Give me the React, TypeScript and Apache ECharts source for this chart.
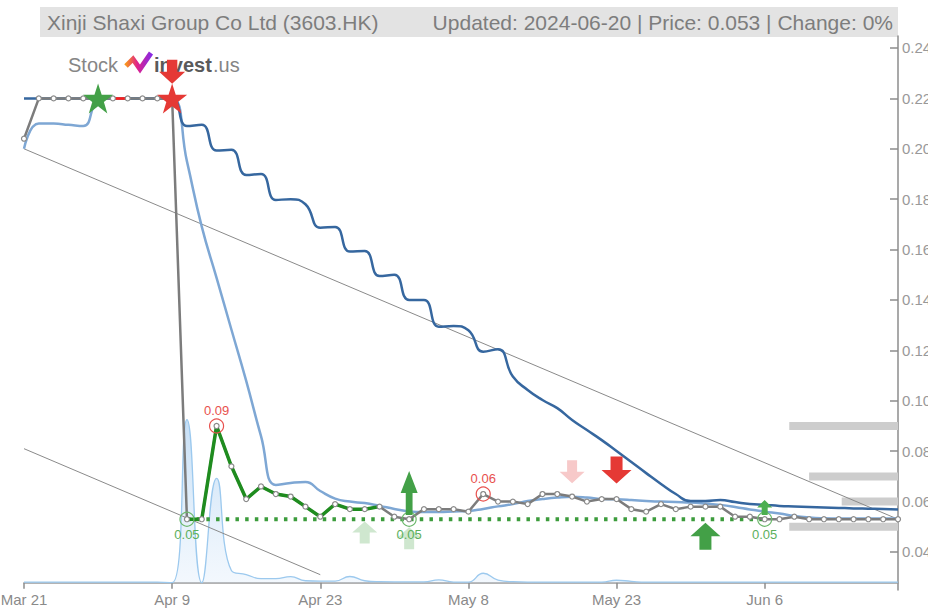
import React, { useEffect, useRef } from "react";
import * as echarts from "echarts";

const dates = [
  "Mar 21", "Mar 22", "Mar 25", "Mar 26", "Mar 27", "Mar 28", "Apr 2", "Apr 3", "Apr 5", "Apr 8",
  "Apr 9", "Apr 10", "Apr 11", "Apr 12", "Apr 15", "Apr 16", "Apr 17", "Apr 18", "Apr 19", "Apr 22",
  "Apr 23", "Apr 24", "Apr 25", "Apr 26", "Apr 29", "Apr 30", "May 2", "May 3", "May 6", "May 7",
  "May 8", "May 9", "May 10", "May 13", "May 14", "May 16", "May 17", "May 20", "May 21", "May 22",
  "May 23", "May 24", "May 27", "May 28", "May 29", "May 30", "May 31", "Jun 3", "Jun 4", "Jun 5",
  "Jun 6", "Jun 7", "Jun 11", "Jun 12", "Jun 13", "Jun 14", "Jun 17", "Jun 18", "Jun 19", "Jun 20",
];

const price = [
  0.204, 0.22, 0.22, 0.22, 0.22, 0.22, 0.22, 0.22, 0.22, 0.22,
  0.22, 0.053, 0.053, 0.09, 0.074, 0.061, 0.066, 0.063, 0.062, 0.058,
  0.054, 0.059, 0.057, 0.057, 0.058, 0.054, 0.053, 0.057, 0.057, 0.057,
  0.056, 0.063, 0.06, 0.06, 0.059, 0.063, 0.063, 0.062, 0.06, 0.061,
  0.061, 0.057, 0.056, 0.059, 0.057, 0.058, 0.058, 0.058, 0.054, 0.054,
  0.053, 0.053, 0.054, 0.053, 0.053, 0.053, 0.053, 0.053, 0.053, 0.053,
];

const maLong = [
  0.22, 0.22, 0.22, 0.22, 0.22, 0.22, 0.22, 0.22, 0.22, 0.22,
  0.22, 0.209, 0.2095, 0.1993, 0.1996, 0.1896, 0.19, 0.1797, 0.18, 0.178,
  0.1687, 0.169, 0.1592, 0.1594, 0.1495, 0.15, 0.14, 0.14, 0.1294, 0.1297,
  0.128, 0.1195, 0.1205, 0.1096, 0.1043, 0.1003, 0.0971, 0.0924, 0.0884, 0.0844,
  0.0801, 0.0757, 0.0713, 0.067, 0.063, 0.0602, 0.0602, 0.0606, 0.0598, 0.059,
  0.0587, 0.0583, 0.0581, 0.0579, 0.0577, 0.0575, 0.0573, 0.0572, 0.0571, 0.0569,
];

const maShort = [
  0.2, 0.21, 0.21, 0.2095, 0.209, 0.219, 0.22, 0.22, 0.22, 0.22,
  0.22, 0.195, 0.1691, 0.1488, 0.1283, 0.1079, 0.086, 0.0666, 0.0674, 0.0678,
  0.0642, 0.0612, 0.06, 0.0594, 0.0583, 0.0571, 0.0561, 0.0559, 0.0559, 0.0561,
  0.0563, 0.0571, 0.0581, 0.059, 0.0602, 0.061, 0.0616, 0.0619, 0.0616, 0.061,
  0.0609, 0.0606, 0.0602, 0.06, 0.0598, 0.0596, 0.0592, 0.0587, 0.0579, 0.0569,
  0.056, 0.0553, 0.0543, 0.0537, 0.0534, 0.0533, 0.0533, 0.0533, 0.0533, 0.0533,
];

const volume = [
  0.3, 0.3, 0.3, 0.3, 0.3, 0.3, 0.3, 0.3, 0.3, 0.3,
  0, 100, 0, 64, 7.5, 5, 2.5, 2.5, 3.7, 1.2,
  1, 1, 3.8, 1.2, 0.6, 0.5, 0.5, 0.5, 1.7, 0.4,
  0.4, 5.8, 1.6, 0.6, 0.4, 0.4, 0.4, 0.4, 0.4, 0.4,
  1.5, 0.8, 0.3, 0.3, 0.3, 0.3, 0.3, 0.3, 0.3, 0.3,
  0.3, 0.3, 0.3, 0.3, 0.3, 0.3, 0.3, 0.3, 0.3, 0.3,
];

const yTicks = [0.04, 0.06, 0.08, 0.1, 0.12, 0.14, 0.16, 0.18, 0.2, 0.22, 0.24];
const yMin = 0.02492;
const yMax = 0.24476;

const redSegment = [[6, 0.22], [7, 0.22]];
const greenRange = [11, 24];
const supportLine = [[11, 0.053], [50, 0.053]];
const upperTrend = [[0, 0.2], [59, 0.053]];
const lowerTrend = [[0, 0.081], [20, 0.031]];

const levelPrices = [0.09, 0.07, 0.06, 0.05];
const levelFrom = [51.66, 53.0, 55.2, 51.66];
const lastIndex = 59;

const highMarks = [[13, 0.09], [31, 0.063]];
const lowMarks = [[11, 0.053], [26, 0.053], [50, 0.053]];
const greenStar = [[5, 0.22]];
const redStar = [[10, 0.22]];
const sellTop = [[10, 0.2306]];
const sellMain = [[40, 0.0725]];
const sellFaded = [[37, 0.0718]];
const buyMain = [[46, 0.0462]];
const buyTall = [[26, 0.0634]];
const buySmall = [[50, 0.0577]];
const buyFaded = [[23, 0.0477], [26, 0.0455]];

const titleLeft = "Xinji Shaxi Group Co Ltd (3603.HK)";
const titleRight = "Updated: 2024-06-20 | Price: 0.053 | Change: 0%";

const FONT = "'Liberation Sans', Arial, sans-serif";
const upPath = "path://M50,0L100,50L70,50L70,100L30,100L30,50L0,50Z";
const downPath = "path://M30,0L70,0L70,50L100,50L50,100L0,50L30,50Z";
const starPath = "path://M50,0L61.8,35.4L99,35.4L69,57.3L80.3,92.7L50,70.8L19.7,92.7L31,57.3L1,35.4L38.2,35.4Z";

function markSeries(data: number[][], symbol: string, size: number | number[], color: string, z: number) {
  return {
    type: "scatter",
    data,
    symbol,
    symbolSize: size,
    itemStyle: { color, opacity: 1 },
    z,
    silent: true,
  };
}

export default function App() {
  const ref = useRef<HTMLDivElement>(null);

  useEffect(() => {
    if (!ref.current) return;
    const chart = echarts.init(ref.current, undefined, { renderer: "svg" });

    const levelSeries = levelPrices.map((lv, k) => ({
      type: "line",
      xAxisIndex: 1,
      yAxisIndex: 0,
      data: [[levelFrom[k], lv], [lastIndex, lv]],
      symbol: "none",
      lineStyle: { color: "#cdcdcd", width: 8, cap: "butt" },
      z: 2,
      silent: true,
    }));

    const greenData = price
      .map((v, i) => [i, v])
      .filter((p) => p[0] >= greenRange[0] && p[0] <= greenRange[1]);

    const option: any = {
      animation: false,
      textStyle: { fontFamily: FONT },
      grid: { left: 24, right: 30, top: 36, bottom: 18, containLabel: false, outerBoundsMode: "none" },
      xAxis: [
        {
          type: "category",
          data: dates,
          boundaryGap: false,
          offset: -7.3,
          axisLine: { onZero: false, lineStyle: { color: "#9a9a9a", width: 1.5 } },
          axisTick: { interval: 9, length: 6, lineStyle: { color: "#8c8c8c", width: 1.5 } },
          axisLabel: { interval: 9, color: "#8a8a8a", fontSize: 15, margin: 9, fontFamily: FONT },
          splitLine: { show: false },
        },
        { type: "value", min: 0, max: lastIndex, show: false },
      ],
      yAxis: [
        {
          type: "value",
          position: "right",
          min: yMin,
          max: yMax,
          splitLine: { show: false },
          axisLine: { show: true, onZero: false, lineStyle: { color: "#8c8c8c", width: 1.5 } },
          axisTick: { show: true, inside: true, length: 8, lineStyle: { color: "#8c8c8c", width: 1.5 }, customValues: yTicks },
          axisLabel: {
            customValues: yTicks,
            formatter: (v: number) => v.toFixed(2),
            color: "#999",
            fontSize: 15,
            margin: 4,
            fontFamily: FONT,
          },
        },
        { type: "value", min: -4.48, max: 335.4, show: false },
      ],
      graphic: [
        { type: "rect", shape: { x: 40, y: 7, width: 858, height: 30 }, style: { fill: "#e3e3e3" }, z: 0 },
        {
          type: "text", x: 47, y: 22,
          style: { text: titleLeft, fontSize: 21, fontFamily: FONT, fill: "#7d7d7d", verticalAlign: "middle", align: "left" },
        },
        {
          type: "text", x: 893, y: 22,
          style: { text: titleRight, fontSize: 21, fontFamily: FONT, fill: "#7d7d7d", verticalAlign: "middle", align: "right" },
        },
        {
          type: "text", x: 68, y: 65, z: 0,
          style: { text: "Stock", fontSize: 20, fontFamily: FONT, fill: "#868686", verticalAlign: "middle" },
        },
        {
          type: "polyline", z: 0,
          shape: { points: [[126, 66], [133, 59], [140, 69], [151, 53]] },
          style: {
            fill: null,
            lineWidth: 5,
            lineJoin: "miter",
            stroke: new echarts.graphic.LinearGradient(0, 0, 1, 0, [
              { offset: 0, color: "#f7941d" },
              { offset: 0.45, color: "#e0218a" },
              { offset: 1, color: "#8a2be2" },
            ]),
          },
        },
        {
          type: "text", x: 154, y: 65, z: 0,
          style: { text: "invest", fontSize: 20, fontWeight: "bold", fontFamily: FONT, fill: "#5a5a5a", verticalAlign: "middle" },
        },
        {
          type: "text", x: 213, y: 65, z: 0,
          style: { text: ".us", fontSize: 20, fontFamily: FONT, fill: "#858585", verticalAlign: "middle" },
        },
      ],
      series: [
        {
          type: "line",
          xAxisIndex: 0,
          yAxisIndex: 1,
          data: volume,
          smooth: true,
          symbol: "none",
          lineStyle: { color: "#9cc9ee", width: 1.3 },
          areaStyle: {
            color: new echarts.graphic.LinearGradient(0, 0, 0, 1, [
              { offset: 0, color: "rgba(120,178,232,0.6)" },
              { offset: 1, color: "rgba(205,226,248,0.35)" },
            ]),
          },
          z: 1,
          silent: true,
        },
        ...levelSeries,
        {
          type: "line", data: upperTrend, symbol: "none",
          lineStyle: { color: "#8a8a8a", width: 1 }, z: 3, silent: true,
        },
        {
          type: "line", data: lowerTrend, symbol: "none",
          lineStyle: { color: "#8a8a8a", width: 1 }, z: 3, silent: true,
        },
        {
          type: "line", data: maShort, smooth: true, symbol: "none",
          lineStyle: { color: "#7ea7d4", width: 2.5 }, z: 4, silent: true,
        },
        {
          type: "line", data: maLong, smooth: true, symbol: "none",
          lineStyle: { color: "#36679f", width: 2.5 }, z: 5, silent: true,
        },
        {
          type: "line", data: supportLine, symbol: "none",
          lineStyle: { color: "#3c9c3c", width: 4, type: [3.5, 6.2] }, z: 6, silent: true,
        },
        {
          type: "line", data: price, symbol: "none",
          lineStyle: { color: "#7c7c7c", width: 2.5 }, z: 7, silent: true,
        },
        {
          type: "line", data: redSegment, symbol: "none",
          lineStyle: { color: "#ff1a1a", width: 2.5 }, z: 8, silent: true,
        },
        {
          type: "line", data: greenData, symbol: "none",
          lineStyle: { color: "#1f8c1f", width: 3.5 }, z: 8, silent: true,
        },
        {
          type: "scatter",
          data: price.map((v, i) => [i, v]),
          symbol: "circle",
          symbolSize: 5,
          itemStyle: { color: "#ffffff", borderColor: "#8a8a8a", borderWidth: 1.2, opacity: 1 },
          z: 9,
          silent: true,
        },
        {
          type: "scatter",
          data: highMarks,
          symbol: "circle",
          symbolSize: 14,
          itemStyle: { color: "rgba(0,0,0,0)", borderColor: "#e8514e", borderWidth: 1.2, opacity: 1 },
          label: {
            show: true, position: "top", distance: 1,
            formatter: (p: any) => p.value[1].toFixed(2),
            color: "#e8514e", fontSize: 13, fontFamily: FONT,
          },
          z: 10,
          silent: true,
        },
        {
          type: "scatter",
          data: lowMarks,
          symbol: "circle",
          symbolSize: 14,
          itemStyle: { color: "rgba(0,0,0,0)", borderColor: "#6cb86c", borderWidth: 1.2, opacity: 1 },
          label: {
            show: true, position: "bottom", distance: 1,
            formatter: (p: any) => p.value[1].toFixed(2),
            color: "#5cb05c", fontSize: 13, fontFamily: FONT,
          },
          z: 11,
          silent: true,
        },
        markSeries(buyFaded, upPath, [25, 22], "#cfe7cf", 10),
        markSeries(sellFaded, downPath, [25, 23], "#f7c9c9", 10),
        markSeries(greenStar, starPath, 30, "#43a047", 12),
        markSeries(redStar, starPath, 30, "#e53935", 12),
        markSeries(sellTop, downPath, [26, 24], "#e53935", 12),
        markSeries(sellMain, downPath, [30, 27], "#e53935", 12),
        markSeries(buyMain, upPath, [30, 27], "#43a047", 12),
        markSeries(buyTall, upPath, [17, 44], "#43a047", 12),
        markSeries(buySmall, upPath, [15, 15], "#4caf50", 12),
      ],
    };

    chart.setOption(option);
    return () => chart.dispose();
  }, []);

  return (
    <div
      ref={ref}
      style={{ position: "fixed", left: 0, top: 0, width: 928, height: 608, background: "#fff" }}
    />
  );
}
